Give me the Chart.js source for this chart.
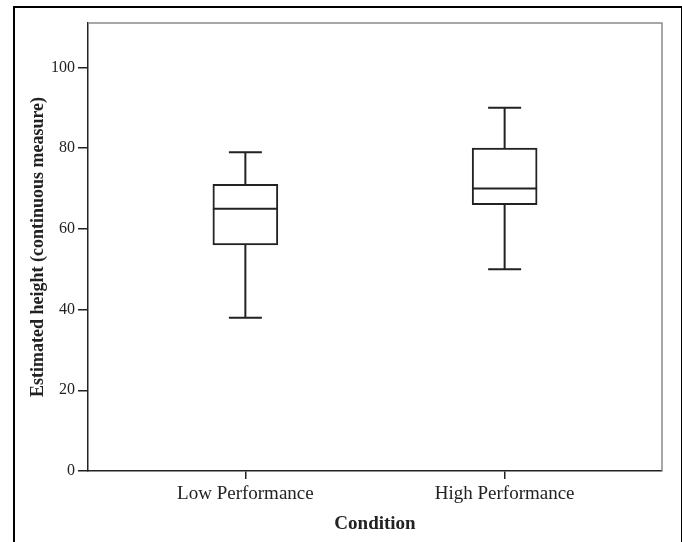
<!DOCTYPE html>
<html>
<head>
<meta charset="utf-8">
<script src="https://cdn.jsdelivr.net/npm/chart.js@4/dist/chart.umd.min.js"></script>
<style>
  html, body { margin: 0; padding: 0; background: #fff; }
  #wrap { position: relative; width: 682px; height: 542px; overflow: hidden; }
  #frame { position: absolute; left: 13px; top: 6px; width: 666px; height: 560px;
           border-left: 2px solid #000; border-top: 2px solid #000; border-right: 2px solid #000;
           pointer-events: none; }
  canvas { position: absolute; left: 0; top: 0; }
</style>
</head>
<body>
<div id="wrap">
  <canvas id="c" width="682" height="542"></canvas>
  <div id="frame"></div>
</div>
<script>
// ---- data ----
const categories = ['Low Performance', 'High Performance'];
const positions = [1, 2];
const whiskerMin = [38, 50];
const q1 = [56, 66];
const median = [65, 70];
const q3 = [71, 80];
const whiskerMax = [79, 90];
const yTicks = [0, 20, 40, 60, 80, 100];
const yTitle = 'Estimated height (continuous measure)';
const xTitle = 'Condition';

// ---- style ----
const LINE = '#222';
const BOX_W = 65;
const CAP_W = 33;
const SERIF = "'Liberation Serif', 'DejaVu Serif', serif";

const boxPlotPlugin = {
  id: 'boxWhiskers',
  afterDatasetsDraw(chart) {
    const ctx = chart.ctx;
    const xs = chart.scales.x, ys = chart.scales.y;
    ctx.save();
    ctx.strokeStyle = LINE;
    ctx.lineWidth = 2;
    ctx.lineCap = 'butt';
    positions.forEach((p, i) => {
      const x = xs.getPixelForValue(p);
      const yMin = ys.getPixelForValue(whiskerMin[i]);
      const yQ1 = ys.getPixelForValue(q1[i]);
      const yMed = ys.getPixelForValue(median[i]);
      const yQ3 = ys.getPixelForValue(q3[i]);
      const yMax = ys.getPixelForValue(whiskerMax[i]);
      ctx.beginPath();
      ctx.moveTo(x, yQ3); ctx.lineTo(x, yMax);
      ctx.moveTo(x - CAP_W / 2, yMax); ctx.lineTo(x + CAP_W / 2, yMax);
      ctx.moveTo(x, yQ1); ctx.lineTo(x, yMin);
      ctx.moveTo(x - CAP_W / 2, yMin); ctx.lineTo(x + CAP_W / 2, yMin);
      ctx.moveTo(x - BOX_W / 2, yMed); ctx.lineTo(x + BOX_W / 2, yMed);
      ctx.stroke();
    });
    ctx.restore();
  },
  beforeDatasetsDraw(chart) {
    const ctx = chart.ctx;
    const a = chart.chartArea;
    ctx.save();
    ctx.strokeStyle = '#8a8a8a';
    ctx.lineWidth = 1.5;
    ctx.beginPath();
    ctx.moveTo(a.left, a.top); ctx.lineTo(a.right, a.top); ctx.lineTo(a.right, a.bottom);
    ctx.stroke();
    ctx.restore();
  }
};

new Chart(document.getElementById('c'), {
  type: 'bar',
  data: {
    datasets: [{
      data: positions.map((p, i) => ({ x: p, y: [q1[i], q3[i]] })),
      backgroundColor: '#ffffff',
      borderColor: LINE,
      borderWidth: 2,
      borderSkipped: false,
      barThickness: BOX_W
    }]
  },
  options: {
    responsive: false,
    animation: false,
    layout: { padding: { left: 0, top: 23, right: 20, bottom: 0 } },
    plugins: { legend: { display: false }, tooltip: { enabled: false } },
    scales: {
      x: {
        type: 'linear',
        min: 0.393,
        max: 2.607,
        offset: false,
        afterBuildTicks: s => { s.ticks = positions.map(v => ({ value: v })); },
        afterFit: s => { s.height = 71; },
        ticks: {
          callback: v => categories[positions.indexOf(v)] || '',
          color: LINE,
          font: { family: SERIF, size: 19 },
          padding: 4,
          maxRotation: 0,
          autoSkip: false
        },
        grid: { offset: false, drawOnChartArea: false, drawTicks: true, tickLength: 8, color: LINE, lineWidth: 1.5 },
        border: { display: true, color: LINE, width: 1.5 },
        title: {
          display: true, text: xTitle, color: LINE,
          font: { family: SERIF, size: 19, weight: 'bold' },
          padding: { top: 0, bottom: 7 }
        }
      },
      y: {
        type: 'linear',
        min: 0,
        max: 111,
        afterBuildTicks: s => { s.ticks = yTicks.map(v => ({ value: v })); },
        afterFit: s => { s.width = 88; },
        ticks: {
          color: LINE,
          font: { family: SERIF, size: 16 },
          padding: 3
        },
        grid: { drawOnChartArea: false, drawTicks: true, tickLength: 10, color: LINE, lineWidth: 1.5 },
        border: { display: true, color: LINE, width: 1.5 },
        title: {
          display: true, text: yTitle, color: LINE,
          font: { family: SERIF, size: 18, weight: 'bold' },
          padding: { top: 28, bottom: 0 }
        }
      }
    }
  },
  plugins: [boxPlotPlugin]
});
</script>
</body>
</html>
